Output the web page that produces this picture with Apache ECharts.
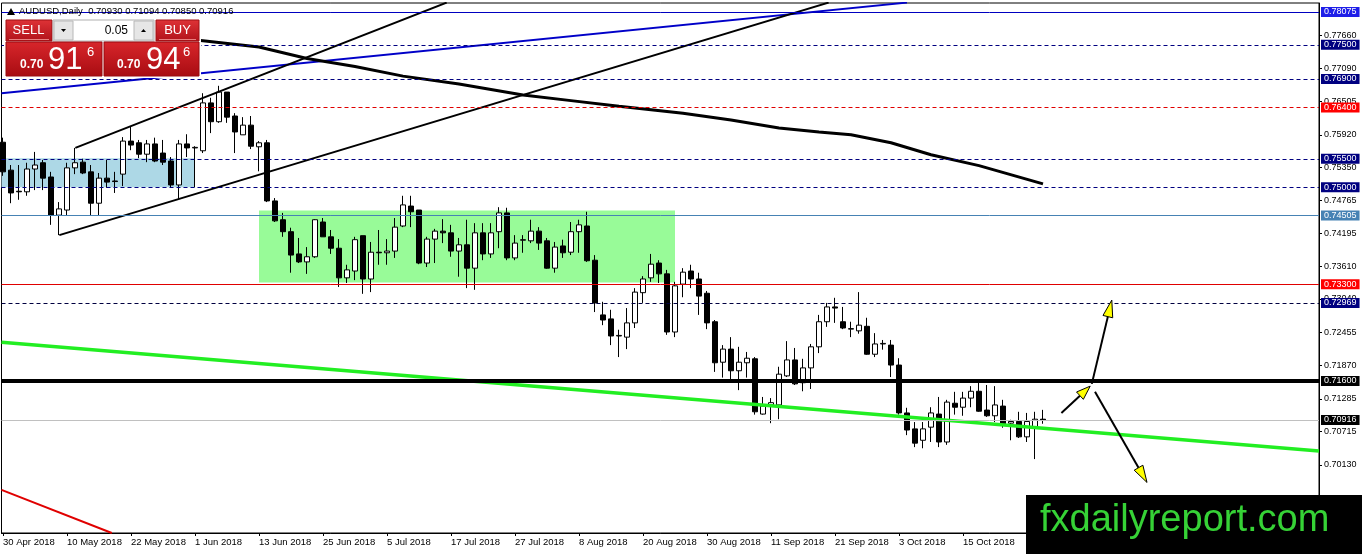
<!DOCTYPE html>
<html><head><meta charset="utf-8">
<script src="https://cdn.jsdelivr.net/npm/echarts@6/dist/echarts.min.js"></script>
<style>html,body{margin:0;padding:0;background:#fff}#c{width:1362px;height:554px}</style>
</head><body><div id="c"></div>
<script>
// ---------- data ----------
const xTickBars = [0, 8, 16, 24, 32, 40, 48, 56, 64, 72, 80, 88, 96, 104, 112, 120];
const xTickLabels = ['30 Apr 2018', '10 May 2018', '22 May 2018', '1 Jun 2018', '13 Jun 2018', '25 Jun 2018',
  '5 Jul 2018', '17 Jul 2018', '27 Jul 2018', '8 Aug 2018', '20 Aug 2018', '30 Aug 2018', '11 Sep 2018',
  '21 Sep 2018', '3 Oct 2018', '15 Oct 2018'];
const yTickValues = [0.77660, 0.77090, 0.76505, 0.75920, 0.75350, 0.74765, 0.74195, 0.73610, 0.73040,
  0.72455, 0.71870, 0.71285, 0.70715, 0.70130, 0.69545];

const openPrices = [0.7579,0.7530,0.7493,0.7492,0.7532,0.7543,0.7518,0.7451,0.7460,0.7534,
  0.7544,0.7527,0.7472,0.7516,0.7511,0.7523,0.7581,0.7578,0.7558,0.7576,
  0.7560,0.7546,0.7504,0.7576,0.7569,0.7564,0.7648,0.7615,0.7667,0.7625,
  0.7592,0.7609,0.7571,0.7578,0.7476,0.7443,0.7422,0.7383,0.7369,0.7378,
  0.7439,0.7413,0.7393,0.7341,0.7353,0.7415,0.7339,0.7386,0.7385,0.7388,
  0.7432,0.7467,0.7460,0.7367,0.7409,0.7423,0.7420,0.7388,0.7399,0.7358,
  0.7420,0.7383,0.7422,0.7455,0.7376,0.7407,0.7406,0.7423,0.7406,0.7358,
  0.7397,0.7386,0.7422,0.7432,0.7372,0.7276,0.7269,0.7239,0.7237,0.7262,
  0.7315,0.7341,0.7367,0.7348,0.7246,0.7330,0.7353,0.7339,0.7314,0.7264,
  0.7193,0.7216,0.7178,0.7192,0.7199,0.7102,0.7118,0.7118,0.7169,0.7197,
  0.7157,0.7183,0.7220,0.7264,0.7290,0.7264,0.7251,0.7248,0.7256,0.7207,
  0.7225,0.7223,0.7188,0.7104,0.7076,0.7056,0.7079,0.7102,0.7053,0.7121,
  0.7114,0.7130,0.7142,0.7109,0.7099,0.7116,0.7086,0.7089,0.7062,0.7079,
  0.70930];
const closePrices = [0.7527,0.7490,0.7492,0.7532,0.7539,0.7516,0.7451,0.7462,0.7534,0.7543,
  0.7525,0.7472,0.7516,0.7509,0.7510,0.7581,0.7574,0.7558,0.7576,0.7546,
  0.7544,0.7504,0.7576,0.7569,0.7570,0.7648,0.7615,0.7667,0.7623,0.7597,
  0.7609,0.7572,0.7578,0.7476,0.7441,0.7422,0.7381,0.7369,0.7378,0.7443,
  0.7413,0.7393,0.7341,0.7355,0.7408,0.7339,0.7386,0.7385,0.7388,0.7430,
  0.7469,0.7457,0.7367,0.7409,0.7423,0.7420,0.7388,0.7399,0.7358,0.7420,
  0.7383,0.7420,0.7455,0.7376,0.7402,0.7408,0.7423,0.7402,0.7358,0.7395,
  0.7385,0.7422,0.7434,0.7371,0.7297,0.7267,0.7239,0.7240,0.7262,0.7316,
  0.7339,0.7365,0.7348,0.7246,0.7327,0.7351,0.7339,0.7309,0.7262,0.7192,
  0.7216,0.7178,0.7193,0.7200,0.7106,0.7116,0.7122,0.7172,0.7197,0.7155,
  0.7183,0.7220,0.7264,0.7290,0.7288,0.7253,0.7252,0.7258,0.7207,0.7225,
  0.7226,0.7188,0.7104,0.7074,0.7051,0.7076,0.7104,0.7053,0.7123,0.7114,
  0.7130,0.7142,0.7107,0.7099,0.7118,0.7085,0.7089,0.7062,0.7089,0.7093,
  0.70916];
const lowPrices = [0.7520,0.7472,0.7478,0.7485,0.7495,0.7495,0.7434,0.7416,0.7451,0.7523,
  0.7523,0.7450,0.7450,0.7499,0.7490,0.7502,0.7565,0.7551,0.7544,0.7544,
  0.7539,0.7499,0.7479,0.7553,0.7500,0.7560,0.7595,0.7613,0.7613,0.7560,
  0.7592,0.7567,0.7528,0.7474,0.7439,0.7413,0.7350,0.7367,0.7348,0.7376,
  0.7413,0.7383,0.7325,0.7332,0.7337,0.7313,0.7316,0.7364,0.7364,0.7376,
  0.7430,0.7430,0.7365,0.7360,0.7367,0.7402,0.7378,0.7343,0.7323,0.7320,
  0.7372,0.7376,0.7393,0.7372,0.7372,0.7385,0.7402,0.7390,0.7357,0.7350,
  0.7376,0.7381,0.7385,0.7369,0.7281,0.7258,0.7223,0.7202,0.7216,0.7253,
  0.7297,0.7334,0.7332,0.7241,0.7237,0.7307,0.7323,0.7276,0.7251,0.7176,
  0.7166,0.7157,0.7144,0.7166,0.7101,0.7101,0.7086,0.7093,0.7167,0.7153,
  0.7142,0.7146,0.7209,0.7255,0.7262,0.7251,0.7237,0.7243,0.7206,0.7202,
  0.7215,0.7167,0.7101,0.7065,0.7044,0.7042,0.7053,0.7044,0.7048,0.7101,
  0.7099,0.7114,0.7106,0.7097,0.7088,0.7078,0.7056,0.7060,0.7053,0.7023,
  0.70850];
const highPrices = [0.7587,0.7539,0.7539,0.7543,0.7562,0.7548,0.7527,0.7474,0.7543,0.7569,
  0.7550,0.7539,0.7525,0.7548,0.7527,0.7588,0.7606,0.7583,0.7583,0.7587,
  0.7583,0.7553,0.7583,0.7593,0.7572,0.7665,0.7657,0.7678,0.7667,0.7630,
  0.7623,0.7625,0.7581,0.7583,0.7481,0.7455,0.7429,0.7411,0.7395,0.7444,
  0.7446,0.7425,0.7409,0.7364,0.7413,0.7415,0.7404,0.7425,0.7409,0.7446,
  0.7485,0.7485,0.7460,0.7413,0.7427,0.7444,0.7434,0.7411,0.7443,0.7437,
  0.7437,0.7437,0.7465,0.7464,0.7416,0.7416,0.7443,0.7430,0.7411,0.7404,
  0.7408,0.7439,0.7443,0.7457,0.7381,0.7299,0.7285,0.7250,0.7288,0.7323,
  0.7344,0.7383,0.7372,0.7355,0.7334,0.7358,0.7364,0.7350,0.7318,0.7267,
  0.7223,0.7237,0.7220,0.7211,0.7202,0.7132,0.7130,0.7185,0.7230,0.7218,
  0.7199,0.7225,0.7276,0.7297,0.7306,0.7290,0.7264,0.7316,0.7271,0.7244,
  0.7232,0.7232,0.7200,0.7113,0.7088,0.7088,0.7114,0.7132,0.7127,0.7141,
  0.7141,0.7151,0.7157,0.7153,0.7151,0.7127,0.7092,0.7106,0.7104,0.7106,
  0.71094];

// moving-average curve read at selected bars
const maBars = [20, 25, 32, 38, 44, 50, 57, 65, 71, 77, 85, 91, 97, 102, 106, 111, 116, 122, 130];
const maValues = [0.7764, 0.7757, 0.7746, 0.7726, 0.7712, 0.7695, 0.7681, 0.7662, 0.7652, 0.7642,
  0.7630, 0.7618, 0.7604, 0.7597, 0.7592, 0.7578, 0.7557, 0.7538, 0.7506];

// horizontal levels
const levelValues = [0.78075, 0.77500, 0.76900, 0.76400, 0.75500, 0.75000, 0.74505, 0.73300, 0.72969, 0.71600, 0.70916];
const levelLabels = ['0.78075', '0.77500', '0.76900', '0.76400', '0.75500', '0.75000', '0.74505', '0.73300', '0.72969', '0.71600', '0.70916'];

// trend lines: [bar, price] pairs
const blueTrend = [[-0.19, 0.7665], [113, 0.7824]];
const channelUpper = [[9.04, 0.7569], [55.46, 0.7824]];
const channelLower = [[7.04, 0.7416], [103.2, 0.7824]];
const greenTrend = [[-0.19, 0.7228], [164.5, 0.7037]];
const redTrend = [[-0.19, 0.6969], [13.6, 0.68933]];

// zones: [[bar1, price1], [bar2, price2]]
const blueZone = [[-0.19, 0.7551], [24, 0.7500]];
const greenZone = [[32, 0.7459], [84, 0.7333]];

// arrows: [bar1, price1, bar2, price2]
const arrows = [[132.3, 0.7104, 135.9, 0.7151], [136.1, 0.7155, 138.6, 0.7302], [136.5, 0.7141, 143.0, 0.6982]];

// ---------- styles ----------
const FONT = 'Liberation Sans';
const NAVY = '#000080';
const levelStyles = [
  { line: { color: '#0000c0', width: 1, type: 'solid' }, bg: '#1e1ee8' },
  { line: { color: NAVY, width: 1, type: [4, 3] }, bg: NAVY },
  { line: { color: NAVY, width: 1, type: [4, 3] }, bg: NAVY },
  { line: { color: '#e00000', width: 1, type: [4, 3] }, bg: '#ff0000' },
  { line: { color: NAVY, width: 1, type: [4, 3] }, bg: NAVY },
  { line: { color: NAVY, width: 1, type: [4, 3] }, bg: NAVY },
  { line: { color: '#4682b4', width: 1, type: 'solid' }, bg: '#4682b4' },
  { line: { color: '#e00000', width: 1, type: 'solid' }, bg: '#ff0000' },
  { line: { color: '#000040', width: 1, type: [4, 3] }, bg: NAVY },
  { line: { color: '#000000', width: 4, type: 'solid' }, bg: '#000000' },
  { line: { color: '#c0c0c0', width: 1, type: 'solid' }, bg: '#000000' }
];

const candleData = openPrices.map((o, i) => [i, o, closePrices[i], lowPrices[i], highPrices[i]]);
const maData = maBars.map((b, i) => [b, maValues[i]]);

function trendSeries(data, color, width, z) {
  return { type: 'line', data: data, showSymbol: false, symbol: 'none', silent: true, z: z,
    lineStyle: { color: color, width: width }, animation: false, clip: true };
}

const chart = echarts.init(document.getElementById('c'), null, { renderer: 'canvas' });

const redGrad = new echarts.graphic.LinearGradient(0, 0, 0, 1, [{ offset: 0, color: '#df3337' }, { offset: 1, color: '#b0121a' }]);
const redGrad2 = new echarts.graphic.LinearGradient(0, 0, 0, 1, [{ offset: 0, color: '#d8262b' }, { offset: 1, color: '#a80c12' }]);

chart.setOption({
  animation: false,
  backgroundColor: '#ffffff',
  grid: { left: 1.5, right: 43, top: 3, bottom: 21, show: true, borderColor: '#000', borderWidth: 1, backgroundColor: '#fff' },
  xAxis: {
    type: 'value', min: -0.1875, max: 164.5,
    axisLine: { show: true, onZero: false, lineStyle: { color: '#000', width: 1 } },
    axisTick: { show: true, customValues: xTickBars, length: 3, lineStyle: { color: '#000' } },
    axisLabel: { customValues: xTickBars, formatter: v => xTickLabels[xTickBars.indexOf(Math.round(v))] || '',
      align: 'left', margin: 4, fontSize: 9.5, color: '#000', fontFamily: FONT },
    splitLine: { show: false }
  },
  yAxis: {
    type: 'value', position: 'right', min: 0.68933, max: 0.78233, scale: true,
    axisLine: { show: true, onZero: false, lineStyle: { color: '#000', width: 1 } },
    axisTick: { show: true, customValues: yTickValues, length: 3, lineStyle: { color: '#000' } },
    axisLabel: { customValues: yTickValues, formatter: v => v.toFixed(5), margin: 5, fontSize: 9, color: '#000', fontFamily: FONT },
    splitLine: { show: false }
  },
  series: [
    { type: 'line', data: [[0, 0.75]], symbol: 'none', silent: true, z: 1, lineStyle: { width: 0 },
      markArea: { silent: true, data: [
        [{ coord: blueZone[0], itemStyle: { color: '#add8e6' } }, { coord: blueZone[1] }],
        [{ coord: greenZone[0], itemStyle: { color: '#98fb98' } }, { coord: greenZone[1] }]
      ] } },
    { type: 'candlestick', data: candleData, barWidth: 5, z: 2, silent: true,
      itemStyle: { color: '#ffffff', color0: '#000000', borderColor: '#000000', borderColor0: '#000000', borderColorDoji: '#000000', borderWidth: 1 } },
    { type: 'line', data: [[0, 0.75]], symbol: 'none', silent: true, z: 3, lineStyle: { width: 0 },
      markLine: { silent: true, symbol: 'none', animation: false, precision: 5,
        data: levelValues.map((v, i) => ({
          yAxis: v,
          lineStyle: levelStyles[i].line,
          label: { show: true, position: 'end', distance: 2, formatter: levelLabels[i], color: '#fff',
            backgroundColor: levelStyles[i].bg, padding: [1, 3, 0, 3], fontSize: 9, fontFamily: FONT }
        })) } },
    trendSeries(blueTrend, '#0000c8', 2, 4),
    trendSeries(channelUpper, '#000000', 2, 4),
    trendSeries(channelLower, '#000000', 2, 4),
    trendSeries(maData, '#000000', 3, 4),
    trendSeries(greenTrend, '#22ee22', 3.5, 4),
    trendSeries(redTrend, '#e00000', 2, 4),
    { type: 'custom', data: arrows, z: 5, silent: true, encode: { x: [0, 2], y: [1, 3] },
      renderItem: function (params, api) {
        const a = api.coord([api.value(0), api.value(1)]);
        const b = api.coord([api.value(2), api.value(3)]);
        const dx = b[0] - a[0], dy = b[1] - a[1], len = Math.hypot(dx, dy);
        const ux = dx / len, uy = dy / len, nx = -uy, ny = ux;
        const L = len < 50 ? 14 : 17, W = 5;
        const bx = b[0] - ux * L, by = b[1] - uy * L;
        return { type: 'group', children: [
          { type: 'line', shape: { x1: a[0], y1: a[1], x2: bx, y2: by }, style: { stroke: '#000', lineWidth: 2 } },
          { type: 'polygon', shape: { points: [[b[0], b[1]], [bx + nx * W, by + ny * W], [bx - nx * W, by - ny * W]] },
            style: { fill: '#ffff00', stroke: '#000', lineWidth: 1 } }
        ] };
      } }
  ],
  graphic: [
    // header
    { type: 'polygon', z: 50, shape: { points: [[7, 15], [11, 8], [15, 15]] }, style: { fill: '#000' } },
    { type: 'text', z: 50, x: 19, y: 11, style: { text: 'AUDUSD,Daily  0.70930 0.71094 0.70850 0.70916', fill: '#000',
      font: '9.5px "Liberation Sans"', verticalAlign: 'middle' } },
    // trade panel
    { type: 'rect', z: 50, shape: { x: 4, y: 18, width: 197, height: 60 }, style: { fill: '#ffffff' } },
    { type: 'rect', z: 51, shape: { x: 6, y: 20, width: 46, height: 21 }, style: { fill: redGrad, stroke: '#a01015' } },
    { type: 'line', z: 52, shape: { x1: 9, y1: 39.5, x2: 49, y2: 39.5 }, style: { stroke: '#e98080', lineWidth: 1 } },
    { type: 'text', z: 52, x: 28.5, y: 30.5, style: { text: 'SELL', fill: '#fff', font: '13px "Liberation Sans"', align: 'center', verticalAlign: 'middle' } },
    { type: 'rect', z: 51, shape: { x: 53, y: 20, width: 101, height: 21 }, style: { fill: '#fff', stroke: '#b0b0b0' } },
    { type: 'rect', z: 52, shape: { x: 54, y: 21, width: 19, height: 19 }, style: { fill: '#e6e6e6', stroke: '#b8b8b8' } },
    { type: 'polygon', z: 53, shape: { points: [[61, 29], [66, 29], [63.5, 32]] }, style: { fill: '#000' } },
    { type: 'rect', z: 52, shape: { x: 134, y: 21, width: 19, height: 19 }, style: { fill: '#e6e6e6', stroke: '#b8b8b8' } },
    { type: 'polygon', z: 53, shape: { points: [[141, 32], [146, 32], [143.5, 29]] }, style: { fill: '#000' } },
    { type: 'text', z: 52, x: 128, y: 30.5, style: { text: '0.05', fill: '#000', font: '12px "Liberation Sans"', align: 'right', verticalAlign: 'middle' } },
    { type: 'rect', z: 51, shape: { x: 156, y: 20, width: 43, height: 21 }, style: { fill: redGrad, stroke: '#a01015' } },
    { type: 'line', z: 52, shape: { x1: 159, y1: 39.5, x2: 196, y2: 39.5 }, style: { stroke: '#e98080', lineWidth: 1 } },
    { type: 'text', z: 52, x: 177.5, y: 30.5, style: { text: 'BUY', fill: '#fff', font: '13px "Liberation Sans"', align: 'center', verticalAlign: 'middle' } },
    { type: 'rect', z: 51, shape: { x: 6, y: 42, width: 96, height: 34 }, style: { fill: redGrad2, stroke: '#9a0a10' } },
    { type: 'text', z: 52, x: 20, y: 65, style: { text: '0.70', fill: '#fff', font: 'bold 12px "Liberation Sans"', verticalAlign: 'middle' } },
    { type: 'text', z: 52, x: 48, y: 60, style: { text: '91', fill: '#fff', font: '31px "Liberation Sans"', verticalAlign: 'middle' } },
    { type: 'text', z: 52, x: 87, y: 52, style: { text: '6', fill: '#fff', font: '13px "Liberation Sans"', verticalAlign: 'middle' } },
    { type: 'rect', z: 51, shape: { x: 104, y: 42, width: 95, height: 34 }, style: { fill: redGrad2, stroke: '#9a0a10' } },
    { type: 'text', z: 52, x: 117, y: 65, style: { text: '0.70', fill: '#fff', font: 'bold 12px "Liberation Sans"', verticalAlign: 'middle' } },
    { type: 'text', z: 52, x: 146, y: 60, style: { text: '94', fill: '#fff', font: '31px "Liberation Sans"', verticalAlign: 'middle' } },
    { type: 'text', z: 52, x: 183, y: 52, style: { text: '6', fill: '#fff', font: '13px "Liberation Sans"', verticalAlign: 'middle' } },
    // watermark
    { type: 'rect', z: 60, shape: { x: 1026, y: 495, width: 336, height: 59 }, style: { fill: '#000' } },
    { type: 'text', z: 61, x: 1040, y: 521, style: { text: 'fxdailyreport.com', fill: '#36d236', font: '38px "Liberation Sans"', verticalAlign: 'middle' } }
  ]
});
</script>
</body></html>
